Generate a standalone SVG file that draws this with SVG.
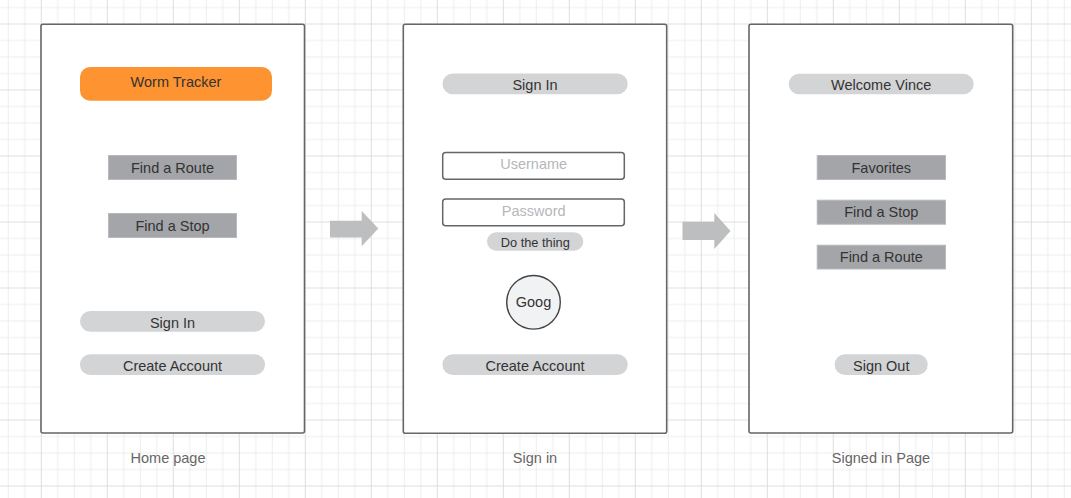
<svg xmlns="http://www.w3.org/2000/svg" width="1071" height="498" viewBox="0 0 1071 498">
  <defs>
    <pattern id="grid" patternUnits="userSpaceOnUse" x="40.8" y="23.5" width="66" height="66">
      <rect x="0" y="0" width="66" height="66" fill="#ffffff"/>
      <g fill="#ededed">
        <rect x="16.5" y="0" width="1" height="66"/>
        <rect x="33" y="0" width="1" height="66"/>
        <rect x="49.5" y="0" width="1" height="66"/>
        <rect x="0" y="16.5" width="66" height="1"/>
        <rect x="0" y="33" width="66" height="1"/>
        <rect x="0" y="49.5" width="66" height="1"/>
      </g>
      <g fill="#dedede">
        <rect x="0" y="0" width="1" height="66"/>
        <rect x="0" y="0" width="66" height="1"/>
      </g>
    </pattern>
    <style>
      .frame { fill: #ffffff; stroke: #666666; stroke-width: 1.6; }
      .t { font-family: "Liberation Sans", Arial, sans-serif; font-size: 14.5px; fill: #333333; text-anchor: middle; }
      .cap { font-family: "Liberation Sans", Arial, sans-serif; font-size: 14.5px; fill: #666666; text-anchor: middle; }
      .ph { font-family: "Liberation Sans", Arial, sans-serif; font-size: 14.5px; fill: #b5b7bb; text-anchor: middle; }
      .pill { fill: #d3d4d6; }
      .btn { fill: #a4a5a9; stroke: #b8b9bc; stroke-width: 1; }
      .field { fill: #ffffff; stroke: #666666; stroke-width: 1.5; }
      .arrow { fill: #bdbebf; }
    </style>
  </defs>

  <rect x="0" y="0" width="1071" height="498" fill="url(#grid)"/>

  <g id="home-page">
    <rect class="frame" x="41" y="24.3" width="263.5" height="408.7" rx="2"/>
    <g id="worm-tracker">
      <rect x="80" y="67" width="192" height="33.7" rx="10" fill="#fd9431"/>
      <text class="t" x="176" y="87.3">Worm Tracker</text>
    </g>
    <g id="home-find-route">
      <rect class="btn" x="108.5" y="155.5" width="128" height="24"/>
      <text class="t" x="172.5" y="173.3">Find a Route</text>
    </g>
    <g id="home-find-stop">
      <rect class="btn" x="108.5" y="213.5" width="128" height="24"/>
      <text class="t" x="172.5" y="231.2">Find a Stop</text>
    </g>
    <g id="home-sign-in">
      <rect class="pill" x="80" y="311" width="185" height="20.7" rx="10.3"/>
      <text class="t" x="172.5" y="327.6">Sign In</text>
    </g>
    <g id="home-create-account">
      <rect class="pill" x="80" y="354.3" width="185" height="20.7" rx="10.3"/>
      <text class="t" x="172.5" y="370.9">Create Account</text>
    </g>
    <text class="cap" x="168" y="463">Home page</text>
  </g>

  <g id="sign-in-page">
    <rect class="frame" x="403.3" y="24.3" width="263.4" height="409" rx="2"/>
    <g id="signin-title">
      <rect class="pill" x="442.5" y="73.5" width="185.2" height="20.8" rx="10.4"/>
      <text class="t" x="535" y="90">Sign In</text>
    </g>
    <g id="username">
      <rect class="field" x="442.7" y="152.5" width="181.6" height="26.8" rx="3"/>
      <text class="ph" x="533.7" y="169.3">Username</text>
    </g>
    <g id="password">
      <rect class="field" x="442.7" y="199" width="181.6" height="26.7" rx="3"/>
      <text class="ph" x="533.7" y="216">Password</text>
    </g>
    <g id="do-the-thing">
      <rect class="pill" x="487" y="232.3" width="96.3" height="18.4" rx="9.2"/>
      <text class="t" x="535.3" y="247.2" style="font-size:12.8px">Do the thing</text>
    </g>
    <g id="goog">
      <circle cx="533.5" cy="302.3" r="26.8" fill="#f1f2f3" stroke="#444444" stroke-width="1.4"/>
      <text class="t" x="533.5" y="306.6">Goog</text>
    </g>
    <g id="signin-create-account">
      <rect class="pill" x="442.5" y="354.3" width="185.2" height="20.7" rx="10.3"/>
      <text class="t" x="535" y="370.9">Create Account</text>
    </g>
    <text class="cap" x="535" y="462.7">Sign in</text>
  </g>

  <g id="signed-in-page">
    <rect class="frame" x="749" y="24.3" width="263.7" height="408.7" rx="2"/>
    <g id="welcome">
      <rect class="pill" x="788.7" y="73.7" width="185" height="20.6" rx="10.3"/>
      <text class="t" x="881.2" y="90">Welcome Vince</text>
    </g>
    <g id="favorites">
      <rect class="btn" x="817.2" y="155.5" width="128.3" height="24"/>
      <text class="t" x="881.3" y="172.6">Favorites</text>
    </g>
    <g id="signed-find-stop">
      <rect class="btn" x="817.2" y="200.2" width="128.3" height="24"/>
      <text class="t" x="881.3" y="217.3">Find a Stop</text>
    </g>
    <g id="signed-find-route">
      <rect class="btn" x="817.2" y="245.2" width="128.3" height="23.8"/>
      <text class="t" x="881.3" y="262.3">Find a Route</text>
    </g>
    <g id="sign-out">
      <rect class="pill" x="834.7" y="354.3" width="93" height="20.7" rx="10.3"/>
      <text class="t" x="881.2" y="370.9">Sign Out</text>
    </g>
    <text class="cap" x="881" y="462.7">Signed in Page</text>
  </g>

  <g id="connectors">
    <polygon class="arrow" points="330,220.7 361.7,220.7 361.7,211 378.3,228.6 361.7,246.2 361.7,237.5 330,237.5"/>
    <polygon class="arrow" points="682.5,221.8 714.3,221.8 714.3,213 730.5,231 714.3,249 714.3,240 682.5,240"/>
  </g>
</svg>
